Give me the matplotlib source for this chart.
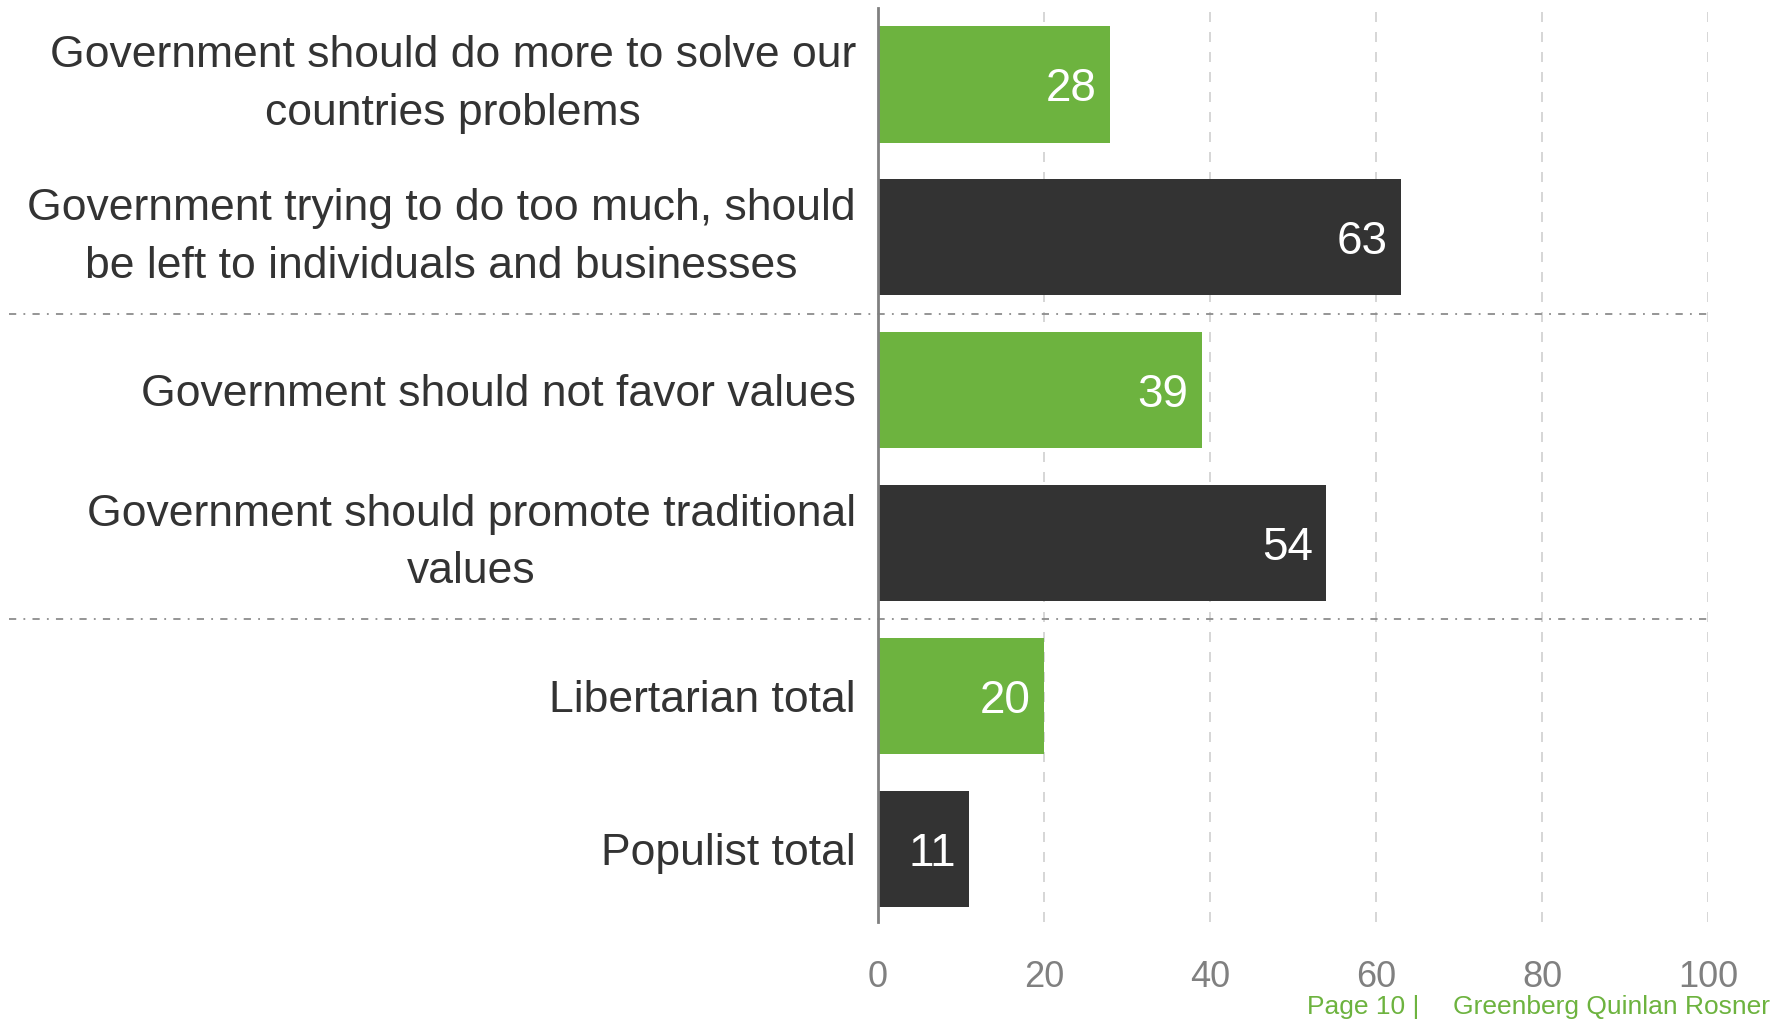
import matplotlib.pyplot as plt
from matplotlib.transforms import blended_transform_factory

# data
categories = [
    "Government should do more to solve our\ncountries problems",
    "Government trying to do too much, should\nbe left to individuals and businesses",
    "Government should not favor values",
    "Government should promote traditional\nvalues",
    "Libertarian total",
    "Populist total",
]
values = [28, 63, 39, 54, 20, 11]
bar_colors = ["#6db33f", "#333333", "#6db33f", "#333333", "#6db33f", "#333333"]
xticks = [0, 20, 40, 60, 80, 100]
separators = [1.5, 3.5]

plt.rcParams['font.family'] = ['Liberation Sans', 'DejaVu Sans']

fig = plt.figure(figsize=(17.9, 10.21), dpi=100)
ax = fig.add_axes([878 / 1790, 1 - 922 / 1021, 830 / 1790, 914 / 1021])

ypos = list(range(len(values)))
ax.barh(ypos, values, height=0.76, color=bar_colors, zorder=3)

# value labels inside bars
for y, v in zip(ypos, values):
    ax.text(v - 1.6, y, str(v), ha='right', va='center_baseline', color='white', fontsize=33, zorder=4)

ax.set_xlim(0, 100)
ax.set_ylim(5.48, -0.5)
ax.set_xticks(xticks)
ax.set_xticklabels([str(t) for t in xticks], fontsize=26, color='#808080')
ax.tick_params(axis='x', length=0, pad=27)
ax.set_yticks(ypos)
ax.set_yticklabels(categories, fontsize=32, color='#333333', multialignment='center', linespacing=1.52)
ax.tick_params(axis='y', length=0, pad=16)
for lbl in ax.get_yticklabels():
    if '\n' in lbl.get_text():
        lbl.set_verticalalignment('center')

for s in ['top', 'right', 'bottom']:
    ax.spines[s].set_visible(False)
ax.spines['left'].set_color('#808080')
ax.spines['left'].set_linewidth(2)
ax.spines['left'].set_zorder(5)

# vertical dashed grid
for t in xticks[1:]:
    ax.axvline(t, color='#d0d0d0', linewidth=1.2, linestyle=(0, (6, 6)), zorder=1)

# dash-dot separators extending across the label area
trans = blended_transform_factory(ax.transAxes, ax.transData)
for s in separators:
    ax.plot([-1.047, 1.0], [s, s], transform=trans, color='#8c8c8c', linewidth=1.3,
            linestyle=(0, (4, 4, 1, 4)), clip_on=False, zorder=2)

# footer
fig.text(1307 / 1790, 1 - 1007 / 1021, "Page 10 |", color='#6db33f', fontsize=19, va='center', ha='left')
fig.text(1770 / 1790, 1 - 1007 / 1021, "Greenberg Quinlan Rosner", color='#6db33f', fontsize=19, va='center', ha='right')

fig.savefig('out.png', dpi=100)
